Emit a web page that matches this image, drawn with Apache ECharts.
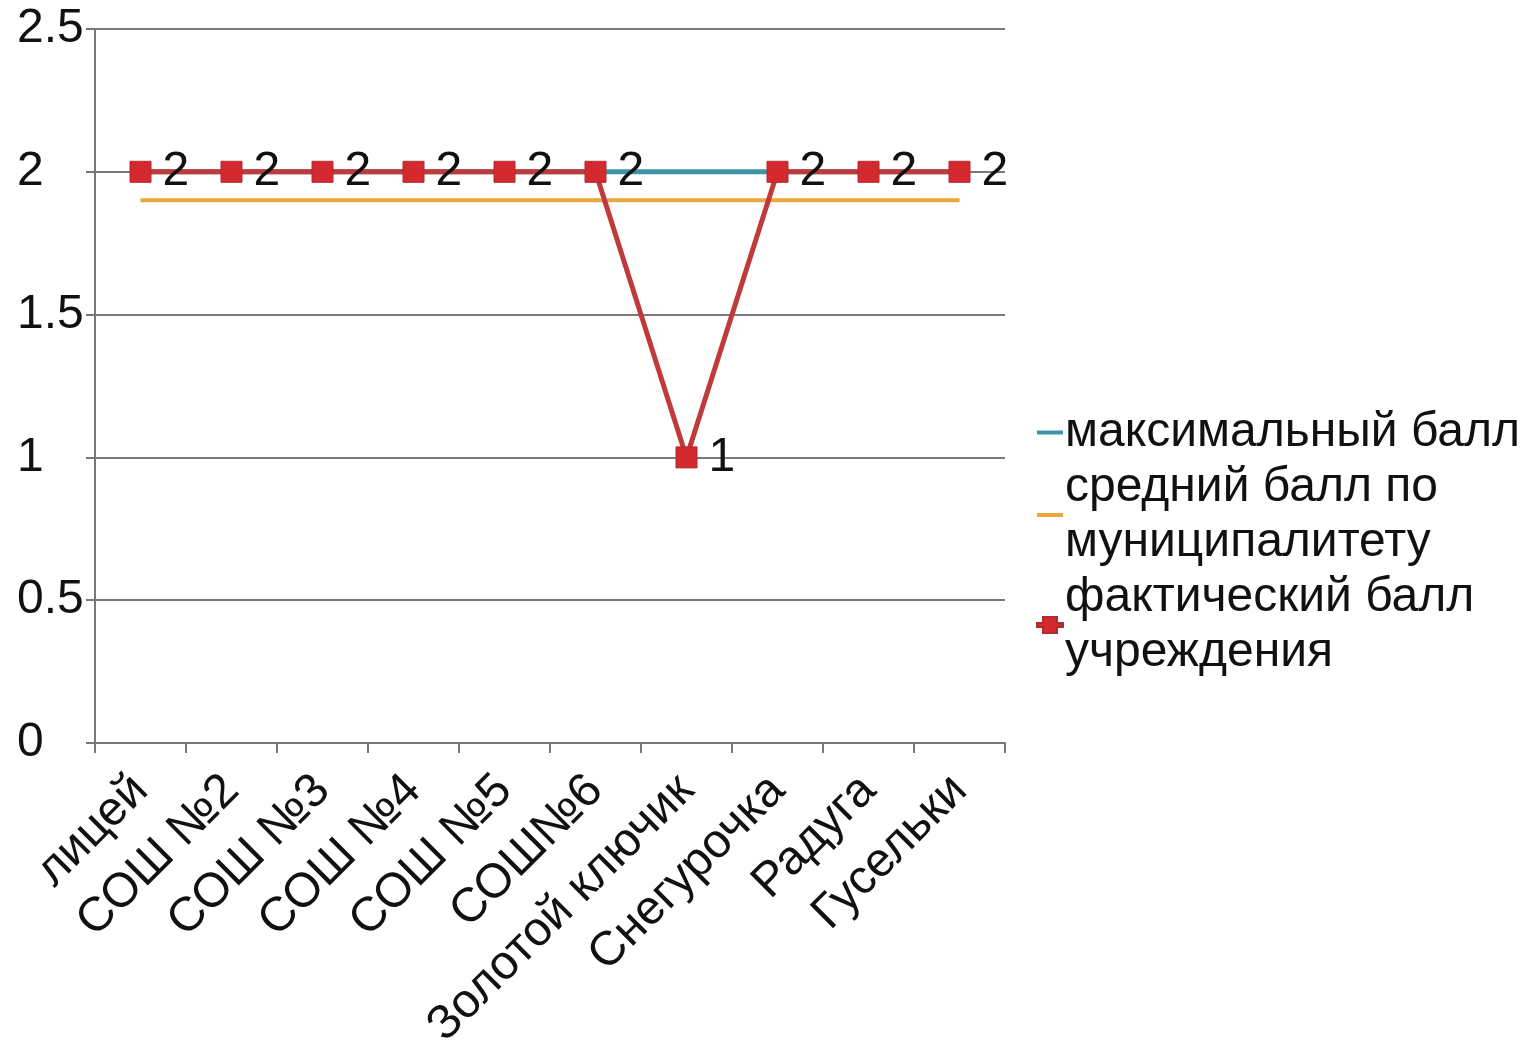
<!DOCTYPE html>
<html>
<head>
<meta charset="utf-8">
<script src="https://cdn.jsdelivr.net/npm/echarts@6/dist/echarts.min.js"></script>
<style>
html,body{margin:0;padding:0;background:#fff;}
#chart{width:1524px;height:1045px;}
</style>
</head>
<body>
<div id="chart"></div>
<script>
const categories = ['лицей','СОШ №2','СОШ №3','СОШ №4','СОШ №5','СОШ№6','Золотой ключик','Снегурочка','Радуга','Гусельки'];
const maxScore = [2,2,2,2,2,2,2,2,2,2];
const avgScore = [1.9,1.9,1.9,1.9,1.9,1.9,1.9,1.9,1.9,1.9];
const actualScore = [2,2,2,2,2,2,1,2,2,2];
const seriesNames = ['максимальный балл','средний балл по\nмуниципалитету','фактический балл\nучреждения'];
const yTicks = {min:0, max:2.5, interval:0.5};

const FONT = '"Liberation Sans", Arial, sans-serif';
const FS = 48;
const LINE_ICON = 'path://M0,0 L26,0 L26,4 L0,4 Z';
const MARK_ICON = 'path://M0,6 L6,6 L6,0 L20,0 L20,6 L26,6 L26,10 L20,10 L20,16 L6,16 L6,10 L0,10 Z';
const chart = echarts.init(document.getElementById('chart'), null, {renderer:'canvas'});
chart.setOption({
  animation:false,
  backgroundColor:'#fff',
  textStyle:{fontFamily:FONT},
  grid:{left:95, top:29, width:910, height:714, containLabel:false, outerBoundsMode:'none'},
  legend:{
    orient:'vertical', left:1031, top:400,
    itemWidth:26, itemHeight:16, itemGap:0,
    textStyle:{fontFamily:FONT, fontSize:FS, color:'#111', lineHeight:55, padding:[0,0,0,-3]},
    data:[
      {name:seriesNames[0], icon:LINE_ICON},
      {name:seriesNames[1], icon:LINE_ICON},
      {name:seriesNames[2], icon:MARK_ICON}
    ]
  },
  xAxis:{
    type:'category', data:categories, boundaryGap:true,
    axisLine:{show:true, lineStyle:{color:'#777', width:2}},
    axisTick:{show:true, alignWithLabel:false, length:10, lineStyle:{color:'#777', width:2}},
    axisLabel:{rotate:45, fontSize:FS, color:'#111', fontFamily:FONT, margin:40, interval:0},
    splitLine:{show:false}
  },
  yAxis:{
    type:'value', min:yTicks.min, max:yTicks.max, interval:yTicks.interval,
    axisLine:{show:true, lineStyle:{color:'#777', width:2}},
    axisTick:{show:true, length:9, lineStyle:{color:'#777', width:2}},
    axisLabel:{fontSize:FS, color:'#111', fontFamily:FONT, align:'left', margin:78,
      formatter:v=>String(v)},
    splitLine:{show:true, lineStyle:{color:'#7a7a7a', width:2}}
  },
  series:[
    {name:seriesNames[0], type:'line', data:maxScore, symbol:'none',
      lineStyle:{color:'#3f95a8', width:5}, itemStyle:{color:'#3f95a8'}, z:2},
    {name:seriesNames[1], type:'line', data:avgScore, symbol:'none',
      lineStyle:{color:'#e8a83a', width:4}, itemStyle:{color:'#e8a83a'}, z:2},
    {name:seriesNames[2], type:'line', data:actualScore, symbol:'rect', symbolSize:21,
      lineStyle:{color:'#c0393b', width:5},
      itemStyle:{color:'#d4292f', borderColor:'#b02a2e', borderWidth:1},
      label:{show:true, position:'right', distance:11, fontSize:FS, color:'#111', fontFamily:FONT},
      z:3}
  ]
});
</script>
</body>
</html>
